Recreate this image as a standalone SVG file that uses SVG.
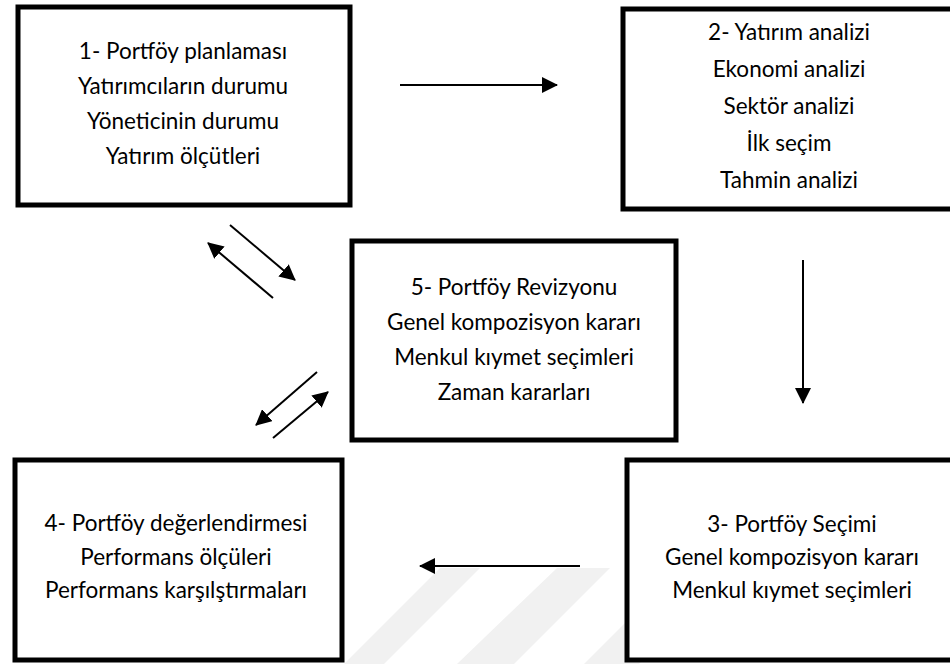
<svg xmlns="http://www.w3.org/2000/svg" width="950" height="664" viewBox="0 0 950 664">
<style>
.box{fill:#fff;stroke:#000;stroke-width:5}
.t{font-family:Lato,"Open Sans","Liberation Sans",sans-serif;font-size:22.5px;fill:#000;text-anchor:middle}
.c{stroke:#000;stroke-width:2;fill:none;marker-end:url(#ah)}
.wm{fill:#f1f1f1}
</style>
<defs>
<marker id="ah" viewBox="0 0 16 16" refX="15" refY="8" markerWidth="16" markerHeight="16" markerUnits="userSpaceOnUse" orient="auto">
<path d="M0,0 L16,8 L0,16 z" fill="#000"/>
</marker>
</defs>
<rect width="950" height="664" fill="#fff"/>
<g id="watermark">
<polygon class="wm" points="440,568 480,568 384,664 344,664"/>
<polygon class="wm" points="557,568 610,568 514,664 457,664"/>
<polygon class="wm" points="680,568 735,568 639,664 584,664"/>
</g>
<g id="connectors">
<line class="c" x1="400" y1="85" x2="557" y2="85"/>
<line class="c" x1="803" y1="260" x2="803" y2="403"/>
<line class="c" x1="580" y1="566" x2="420" y2="566"/>
<line class="c" x1="230" y1="225" x2="295" y2="280"/>
<line class="c" x1="273" y1="298" x2="208" y2="243"/>
<line class="c" x1="317" y1="372" x2="256" y2="425"/>
<line class="c" x1="273" y1="438" x2="328" y2="392"/>
</g>
<g id="node1">
<rect class="box" x="18" y="7" width="332" height="198"/>
<text class="t" x="183" y="59">1- Portföy planlaması</text>
<text class="t" x="183" y="94">Yatırımcıların durumu</text>
<text class="t" x="183" y="129">Yöneticinin durumu</text>
<text class="t" x="183" y="164">Yatırım ölçütleri</text>
</g>
<g id="node2">
<rect class="box" x="623" y="9" width="333" height="200"/>
<text class="t" x="789" y="40">2- Yatırım analizi</text>
<text class="t" x="789" y="77">Ekonomi analizi</text>
<text class="t" x="789" y="114">Sektör analizi</text>
<text class="t" x="789" y="151">İlk seçim</text>
<text class="t" x="789" y="188">Tahmin analizi</text>
</g>
<g id="node5">
<rect class="box" x="352" y="241" width="324" height="199"/>
<text class="t" x="514" y="295">5- Portföy Revizyonu</text>
<text class="t" x="514" y="330">Genel kompozisyon kararı</text>
<text class="t" x="514" y="365">Menkul kıymet seçimleri</text>
<text class="t" x="514" y="400">Zaman kararları</text>
</g>
<g id="node4">
<rect class="box" x="15" y="460" width="327" height="200"/>
<text class="t" x="176" y="531">4- Portföy değerlendirmesi</text>
<text class="t" x="176" y="565">Performans ölçüleri</text>
<text class="t" x="176" y="598">Performans karşılştırmaları</text>
</g>
<g id="node3">
<rect class="box" x="627" y="460" width="330" height="200"/>
<text class="t" x="792" y="532">3- Portföy Seçimi</text>
<text class="t" x="792" y="565">Genel kompozisyon kararı</text>
<text class="t" x="792" y="598">Menkul kıymet seçimleri</text>
</g>
</svg>
